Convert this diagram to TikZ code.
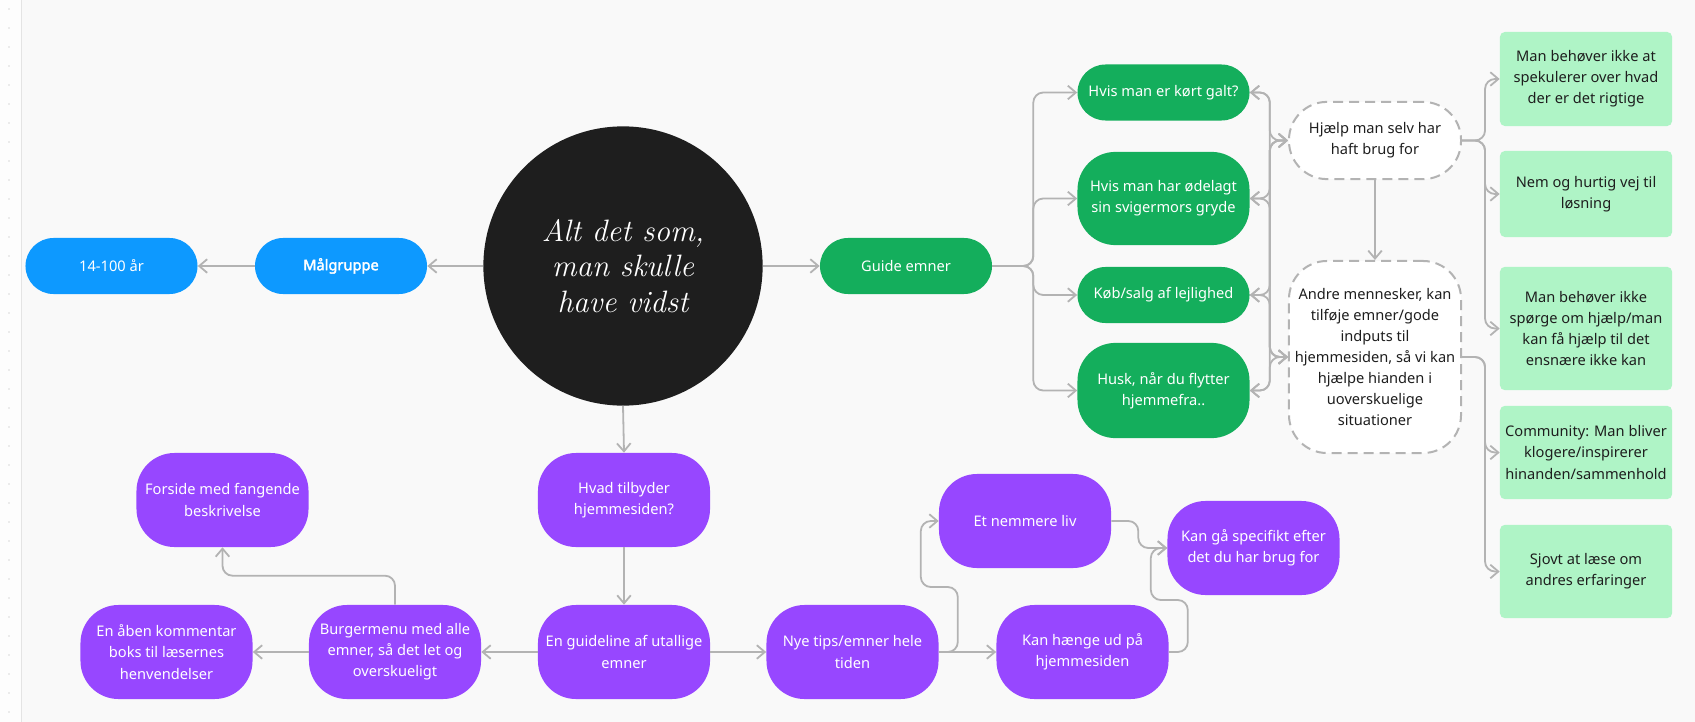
\documentclass[tikz,border=0pt]{standalone}
\usepackage{fontspec}
\setmainfont{Noto Sans}[AutoFakeBold=2.5]
\newfontfamily\handfont{Latin Modern Roman}
\usetikzlibrary{arrows.meta}

\definecolor{board}{HTML}{F9F9F9}
\definecolor{fjblue}{HTML}{0D99FF}
\definecolor{fjgreen}{HTML}{14AE5C}
\definecolor{fjmint}{HTML}{AFF4C6}
\definecolor{fjviolet}{HTML}{9747FF}
\definecolor{fjdark}{HTML}{1E1E1E}
\definecolor{fjline}{HTML}{B3B3B3}

\tikzset{
	box/.style={rectangle, rounded corners=0.7cm, minimum width=4.3cm, minimum height=1.4cm,
		align=center, text=white, inner sep=2pt, font=\fontsize{10.4}{15}\selectfont},
	bluebox/.style={box, fill=fjblue},
	greenbox/.style={box, fill=fjgreen},
	violetbox/.style={box, fill=fjviolet, minimum height=2.35cm, rounded corners=0.95cm},
	mintbox/.style={box, rounded corners=0.12cm, fill=fjmint, text=fjdark},
	dashbox/.style={box, rounded corners=0.95cm, fill=white, draw=fjline, line width=0.05cm,
		dash pattern=on 0.25cm off 0.15cm, text=fjdark},
	link/.style={draw=fjline, line width=0.045cm, rounded corners=0.25cm, ->},
}

\begin{document}
\begin{tikzpicture}[x=0.025cm, y=-0.025cm, >={Straight Barb[length=0.2cm, width=0.34cm]}]
	\useasboundingbox (0,0) rectangle (1695,722);
	\fill[board] (0,0) rectangle (1695,722);
	% ruler strip on the left
	\fill[white!60!board] (0,0) rectangle (21,722);
	\draw[fjline!35, line width=0.02cm] (21,0) -- (21,722);
	\foreach \k in {0,...,37}
		\fill[fjline] (9, 9+19*\k) circle[radius=0.018cm];

	% centre
	\node (hub) at (623, 266)	[circle, fill=fjdark, minimum size=6.98cm, text=white, align=center,
		font=\handfont\itshape\fontsize{22}{25}\selectfont]	{Alt det som,\\ man skulle\\ have vidst};

	% target group
	\node (target) at (341, 266)	[bluebox, font=\bfseries\fontsize{10.4}{15}\selectfont]	{Målgruppe};
	\node (age) at (111.5, 266)	[bluebox]	{14-100 år};

	% guide topics
	\node (guide) at (906, 266)	[greenbox]	{Guide emner};
	\node (g1) at (1163.5, 92.5)	[greenbox]	{Hvis man er kørt galt?};
	\node (g2) at (1163.5, 198.5)	[greenbox, minimum height=2.33cm, rounded corners=0.95cm]	{Hvis man har ødelagt\\sin svigermors gryde};
	\node (g3) at (1163.5, 295)	[greenbox]	{Køb/salg af lejlighed};
	\node (g4) at (1163.5, 390.5)	[greenbox, minimum height=2.38cm, rounded corners=0.95cm]	{Husk, når du flytter\\hjemmefra..};

	\node (d1) at (1375, 140.5)	[dashbox, minimum height=1.93cm]	{Hjælp man selv har\\haft brug for};
	\node (d2) at (1375, 357)	[dashbox, minimum height=4.8cm]
		{Andre mennesker, kan\\tilføje emner/gode\\indputs til\\hjemmesiden, så vi kan\\hjælpe hianden i\\uoverskuelige\\situationer};

	\node (l1) at (1586, 79)	[mintbox, minimum height=2.35cm]	{Man behøver ikke at\\spekulerer over hvad\\der er det rigtige};
	\node (l2) at (1586, 194)	[mintbox, minimum height=2.15cm]	{Nem og hurtig vej til\\løsning};
	\node (l3) at (1586, 328.5)	[mintbox, minimum height=3.08cm]	{Man behøver ikke\\spørge om hjælp/man\\kan få hjælp til det\\ensnære ikke kan};
	\node (l4) at (1586, 452.5)	[mintbox, minimum height=2.33cm]	{Community: Man bliver\\klogere/inspirerer\\hinanden/sammenhold};
	\node (l5) at (1586, 571.5)	[mintbox, minimum height=2.33cm]	{Sjovt at læse om\\andres erfaringer};

	% what the site offers
	\node (offer) at (624, 500)	[violetbox]	{Hvad tilbyder\\hjemmesiden?};
	\node (guideline) at (624, 652)	[violetbox]	{En guideline af utallige\\emner};
	\node (burger) at (395, 652)	[violetbox]	{Burgermenu med alle\\emner, så det let og\\overskueligt};
	\node (comment) at (166.5, 652)	[violetbox]	{En åben kommentar\\boks til læsernes\\henvendelser};
	\node (front) at (222.5, 500)	[violetbox]	{Forside med fangende\\beskrivelse};
	\node (news) at (852.5, 652)	[violetbox]	{Nye tips/emner hele\\tiden};
	\node (easier) at (1025, 521)	[violetbox]	{Et nemmere liv};
	\node (hangout) at (1082.5, 652)	[violetbox]	{Kan hænge ud på\\hjemmesiden};
	\node (specific) at (1253.5, 548)	[violetbox]	{Kan gå specifikt efter\\det du har brug for};

	% connectors
	\draw[link] (hub.west) -- (target.east);
	\draw[link] (target.west) -- (age.east);
	\draw[link] (hub.east) -- (guide.west);
	\foreach \g in {g1,g2,g3,g4} {
		\draw[link] (guide.east) -- ++(41,0) |- (\g.west);
		\foreach \d in {d1,d2}
			\draw[link, <->] (\g.east) -- ++(20,0) |- (\d.west);
	}
	\foreach \l in {l1,l2,l3}
		\draw[link] (d1.east) -- ++(23,0) |- (\l.west);
	\foreach \l in {l4,l5}
		\draw[link] (d2.east) -- ++(23,0) |- (\l.west);
	\draw[link] (d1.south) -- (d2.north);

	\draw[link] (hub.south) -- (offer.north);
	\draw[link] (offer.south) -- (guideline.north);
	\draw[link] (guideline.west) -- (burger.east);
	\draw[link] (burger.west) -- (comment.east);
	\draw[link] (burger.north) -- ++(0,-29) -| (front.south);
	\draw[link] (guideline.east) -- (news.west);
	\draw[link] (news.east) -- (hangout.west);
	\draw[link] (news.east) -- ++(19,0) -- ++(0,-65) -- ++(-37,0) |- (easier.west);
	\draw[link] (easier.east) -- ++(27,0) |- (specific.west);
	\draw[link] (hangout.east) -- ++(19,0) -- ++(0,-52) -- ++(-37,0) |- (specific.west);
\end{tikzpicture}
\end{document}
